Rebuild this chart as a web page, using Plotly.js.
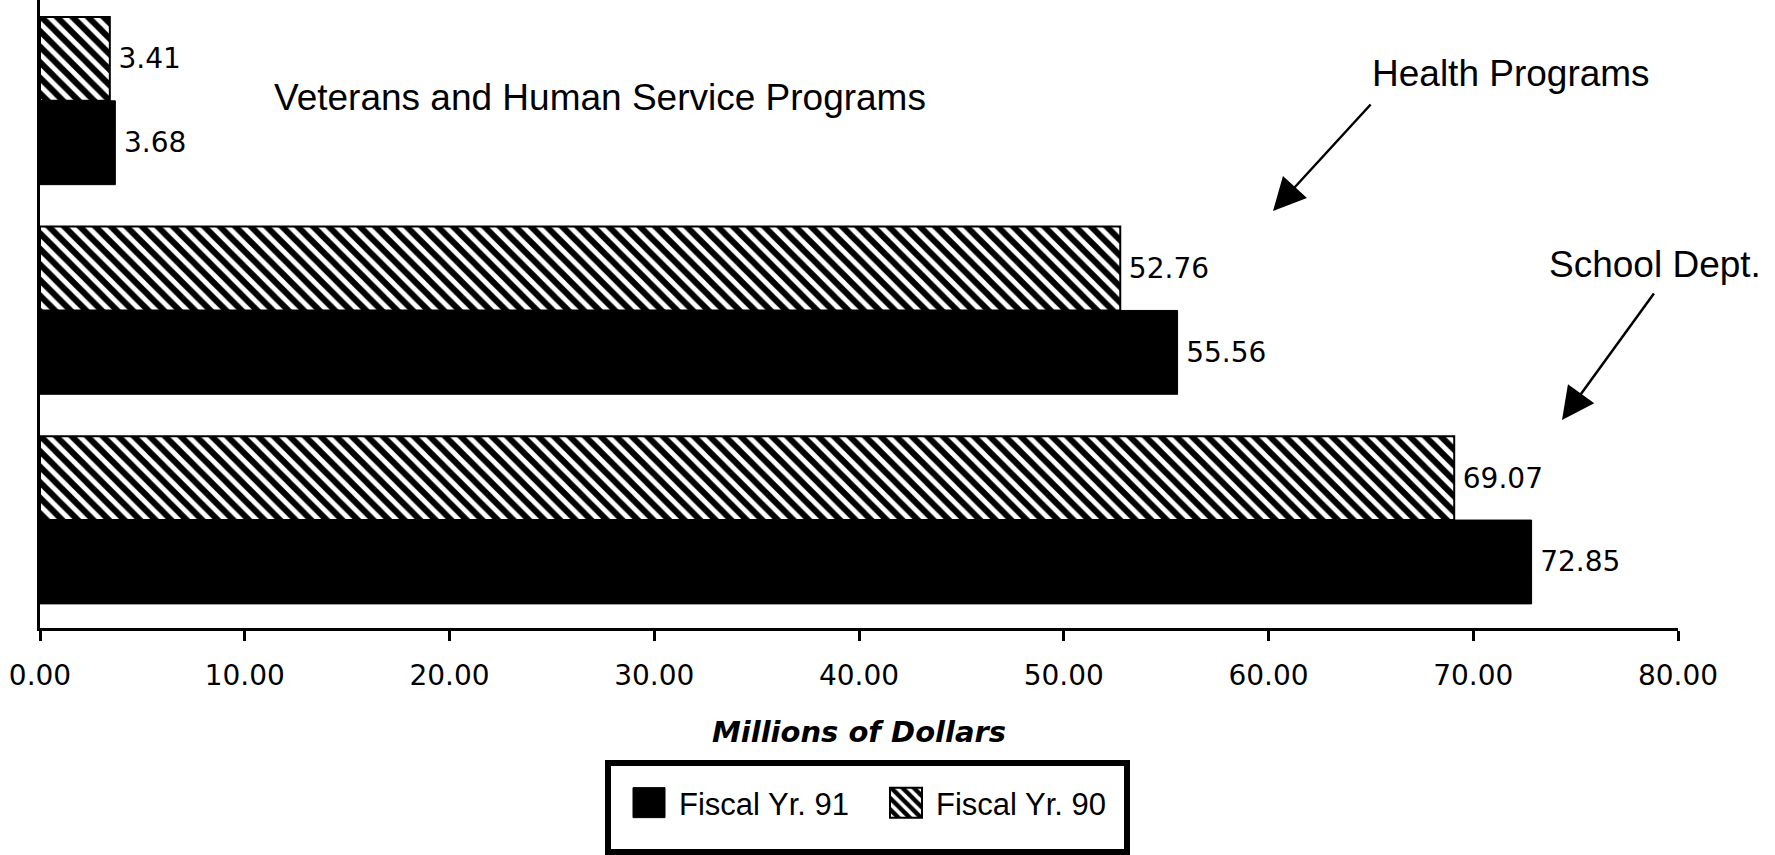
<!DOCTYPE html>
<html>
<head>
<meta charset="utf-8">
<script src="https://cdn.plot.ly/plotly-3.0.1.min.js"></script>
<style>
  html, body { margin: 0; padding: 0; background: #ffffff; }
  #chart { width: 1775px; height: 855px; }
</style>
</head>
<body>
<div id="chart"></div>
<script>
// ---- data ----
const categories = ['School Dept.', 'Health Programs', 'Veterans and Human Service Programs'];
const fy91 = [72.85, 55.56, 3.68];
const fy90 = [69.07, 52.76, 3.41];
const seriesNames = ['Fiscal Yr. 91', 'Fiscal Yr. 90'];
const xTickValues = [0, 10, 20, 30, 40, 50, 60, 70, 80];
const xTitle = 'Millions of Dollars';

// ---- geometry helpers (plot area in px) ----
const L = 40, T = 0, W = 1638, H = 628;
const FW = 1775, FH = 855;
const px = v => (v - L) / W;
const py = v => 1 - (v - T) / H;

const labelFont = {family: 'DejaVu Sans, sans-serif', size: 28, color: '#000'};
const noteFont = {family: 'Liberation Sans, Arial, sans-serif', size: 37, color: '#000'};

const data = [
  {
    type: 'bar', orientation: 'h', name: seriesNames[0],
    y: categories, x: fy91,
    marker: {color: '#000', line: {color: '#000', width: 1}},
    texttemplate: '\u2009%{x:.2f}', textposition: 'outside',
    textfont: labelFont, cliponaxis: false
  },
  {
    type: 'bar', orientation: 'h', name: seriesNames[1],
    y: categories, x: fy90,
    marker: {
      color: '#fff',
      line: {color: '#000', width: 2},
      pattern: {shape: '\\', fgcolor: '#000', bgcolor: '#fff', size: 11, solidity: 0.55}
    },
    texttemplate: '\u2009%{x:.2f}', textposition: 'outside',
    textfont: labelFont, cliponaxis: false
  }
];

const layout = {
  width: FW, height: FH,
  margin: {l: L, r: FW - L - W, t: T, b: FH - T - H, pad: 0},
  paper_bgcolor: '#fff', plot_bgcolor: '#fff',
  font: {family: 'DejaVu Sans, sans-serif', color: '#000'},
  barmode: 'group', bargap: 0.2, bargroupgap: 0,
  showlegend: true,
  legend: {
    orientation: 'h', xanchor: 'left', yanchor: 'middle',
    x: px(619), y: py(803),
    font: {family: 'Liberation Sans, Arial, sans-serif', size: 31, color: '#000'},
    itemwidth: 50, entrywidth: 192, entrywidthmode: 'pixels',
    borderwidth: 0, bgcolor: 'rgba(0,0,0,0)', traceorder: 'normal'
  },
  xaxis: {
    range: [0, 80], tickvals: xTickValues, tickformat: '.2f',
    ticks: 'outside', ticklen: 10, tickwidth: 3, tickcolor: '#000',
    showline: true, linewidth: 3, linecolor: '#000',
    showgrid: false, zeroline: false,
    tickfont: labelFont, ticklabelstandoff: 10,
    title: {text: xTitle, standoff: 32,
            font: {family: 'DejaVu Sans, sans-serif', size: 29, weight: 'bold', style: 'italic', color: '#000'}},
    fixedrange: true
  },
  xaxis2: {
    overlaying: 'x', anchor: 'y', side: 'bottom',
    range: [0, 80], tickvals: xTickValues,
    ticks: 'inside', ticklen: 10, tickwidth: 3, tickcolor: '#000',
    showticklabels: false, showline: false, showgrid: false, zeroline: false,
    fixedrange: true
  },
  yaxis: {
    type: 'category', range: [-0.515, 2.481],
    showline: true, linewidth: 3, linecolor: '#000',
    showticklabels: false, ticks: '', showgrid: false, zeroline: false,
    fixedrange: true
  },
  shapes: [
    {type: 'rect', xref: 'paper', yref: 'paper',
     x0: px(608), x1: px(1127), y0: py(763), y1: py(852),
     line: {color: '#000', width: 6}, fillcolor: 'rgba(0,0,0,0)', layer: 'above'}
  ],
  annotations: [
    {xref: 'paper', yref: 'paper', x: px(272), y: py(97), xanchor: 'left', yanchor: 'middle',
     text: categories[2], showarrow: false, font: noteFont},
    {xref: 'paper', yref: 'paper', x: px(1370), y: py(74), xanchor: 'left', yanchor: 'middle',
     text: categories[1], showarrow: false, font: noteFont},
    {xref: 'paper', yref: 'paper', x: px(1547), y: py(264), xanchor: 'left', yanchor: 'middle',
     text: categories[0], showarrow: false, font: noteFont},
    {xref: 'paper', yref: 'paper', x: px(1273), y: py(211), text: '', showarrow: true,
     ax: 99, ay: -108, arrowhead: 2, arrowsize: 2.6, arrowwidth: 2.5, arrowcolor: '#000'},
    {xref: 'paper', yref: 'paper', x: px(1562), y: py(420), text: '', showarrow: true,
     ax: 93, ay: -128, arrowhead: 2, arrowsize: 2.6, arrowwidth: 2.5, arrowcolor: '#000'}
  ]
};

Plotly.newPlot('chart', data, layout, {staticPlot: true, displayModeBar: false}).then(gd => {
  gd.querySelectorAll('.legend .legendpoints path').forEach(p => {
    p.setAttribute('d', 'M16,15H-16V-15H16Z');
  });
});
</script>
</body>
</html>
